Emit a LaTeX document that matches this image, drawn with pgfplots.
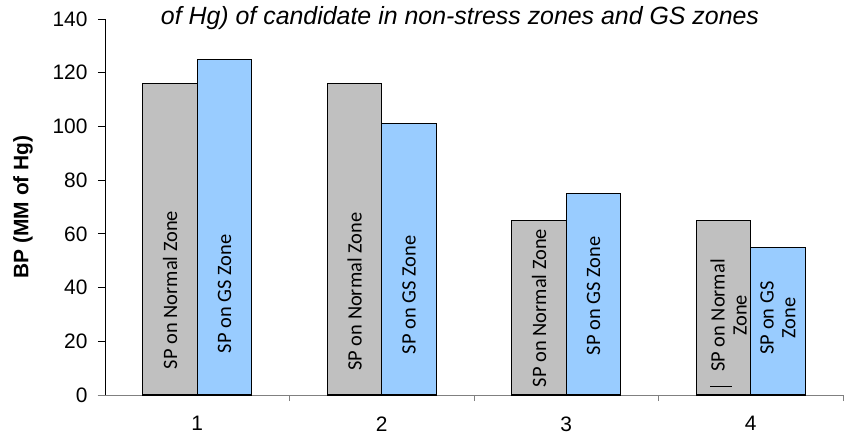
\documentclass[border=0pt]{standalone}
\usepackage{pgfplots}
\pgfplotsset{compat=1.18}
\usepackage{fontspec}
\setmainfont{Liberation Sans}
\newfontfamily\barfont{Carlito}
\definecolor{bargrey}{HTML}{C0C0C0}
\definecolor{barblue}{HTML}{99CCFF}
\begin{document}
\begin{tikzpicture}
\useasboundingbox (-105bp,-41bp) rectangle (748bp,395bp);
\begin{axis}[
  scale only axis,
  width=738bp, height=376bp,
  at={(0,0)}, anchor=south west,
  xmin=0.5, xmax=4.5,
  ymin=0, ymax=140,
  ytick={0,20,...,140},
  xtick={1,2,3,4},
  xticklabels={1,2,3,4},
  minor xtick={1.5,2.5,3.5,4.5},
  axis x line*=bottom,
  axis y line*=left,
  x axis line style={draw=gray, line width=0.8bp, shorten <=-7bp},
  y axis line style={draw=black, line width=0.8bp},
  tick align=outside,
  major tick length=7bp,
  minor tick length=6bp,
  xtick style={draw=none},
  minor x tick style={draw=gray, line width=0.8bp},
  ytick style={draw=black, line width=0.8bp},
  /pgf/number format/assume math mode=true,
  tick label style={font=\fontsize{21}{23}\selectfont},
  yticklabel style={xshift=-7bp},
  xticklabel style={yshift=-11bp},
  ylabel={BP (MM of Hg)},
  ylabel style={font=\bfseries\fontsize{21}{23}\selectfont, at={(axis description cs:-0.111,0.5)}, anchor=center},
  ybar=0pt,
  bar width=0.295,
  clip=false,
]
\addplot[fill=bargrey, draw=black, line width=1.2bp] coordinates {(1,116) (2,116) (3,65) (4,65)};
\addplot[fill=barblue, draw=black, line width=1.2bp] coordinates {(1,125) (2,101) (3,75) (4,55)};
\begin{scope}[every node/.style={rotate=90, font=\barfont\fontsize{20.5}{22}\selectfont, inner sep=0pt, anchor=center}]
\node at (axis cs:0.8525,39.1) {SP on Normal Zone};
\node at (axis cs:1.1475,37.6) {SP on GS Zone};
\node at (axis cs:1.8525,38.5) {SP on Normal Zone};
\node at (axis cs:2.1475,37.3) {SP on GS Zone};
\node at (axis cs:2.8525,32.4) {SP on Normal Zone};
\node at (axis cs:3.1475,36.9) {SP on GS Zone};
\node[align=center] at (axis cs:3.88,29.6) {SP on Normal\\Zone};
\node[align=center] at (axis cs:4.1475,28.7) {SP on GS\\Zone};
\end{scope}
\draw[black, line width=1bp] (axis cs:3.78,3) -- (axis cs:3.9,3);
\node[font=\itshape\fontsize{25}{27}\selectfont] at (axis description cs:0.481,1.003) {of Hg) of candidate in non-stress zones and GS zones};
\end{axis}
\end{tikzpicture}
\end{document}
